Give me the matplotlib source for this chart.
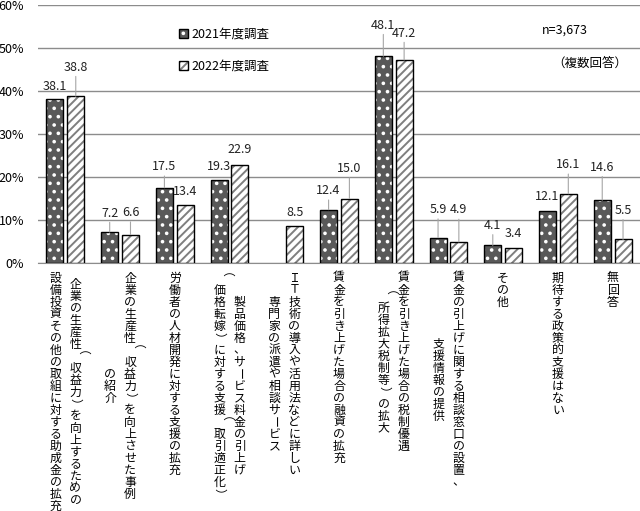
import matplotlib
matplotlib.use("Agg")
from matplotlib import pyplot as plt
from matplotlib.patches import Rectangle
import numpy as np

plt.rcParams["font.family"] = "Noto Sans CJK JP"
plt.rcParams["hatch.linewidth"] = 1.4

# Data
categories = [
    ["企業の生産性（収益力）を向上するための", "設備投資その他の取組に対する助成金の拡充"],
    ["企業の生産性（収益力）を向上させた事例", "の紹介"],
    ["労働者の人材開発に対する支援の拡充"],
    ["製品価格、サービス料金の引上げ", "（価格転嫁）に対する支援（取引適正化）"],
    ["ＩＴ技術の導入や活用法などに詳しい", "専門家の派遣や相談サービス"],
    ["賃金を引き上げた場合の融資の拡充"],
    ["賃金を引き上げた場合の税制優遇", "（所得拡大税制等）の拡大"],
    ["賃金の引上げに関する相談窓口の設置、", "支援情報の提供"],
    ["その他"],
    ["期待する政策的支援はない"],
    ["無回答"],
]
survey_2021 = [38.1, 7.2, 17.5, 19.3, np.nan, 12.4, 48.1, 5.9, 4.1, 12.1, 14.6]
survey_2022 = [38.8, 6.6, 13.4, 22.9, 8.5, 15.0, 47.2, 4.9, 3.4, 16.1, 5.5]
series_names = ["2021年度調査", "2022年度調査"]

# label raise above bar tops (pixels)
raise_2021 = [13, 19, 21, 14, 0, 19, 31, 28, 20, 14, 33]
raise_2022 = [29, 22, 14, 15, 14, 30, 27, 32, 15, 29, 29]

fig = plt.figure(figsize=(6.4, 5.11), dpi=100)
ax = fig.add_axes([38 / 640, (511 - 263) / 511, 1 - 38 / 640, 258 / 511])

x = np.arange(len(categories))
w = 0.31
off = 0.19

for i in range(len(x)):
    v1, v2 = survey_2021[i], survey_2022[i]
    if not np.isnan(v1):
        ax.bar(x[i] - off, v1, w, color="#595959", edgecolor="white", hatch="..", linewidth=0, zorder=3)
        ax.bar(x[i] - off, v1, w, fill=False, edgecolor="black", linewidth=1, zorder=4)
    ax.bar(x[i] + off, v2, w, color="white", edgecolor="#7f7f7f", hatch="////", linewidth=0, zorder=3)
    ax.bar(x[i] + off, v2, w, fill=False, edgecolor="black", linewidth=1, zorder=4)

    for xc, v, r in [(x[i] - off, v1, raise_2021[i]), (x[i] + off, v2, raise_2022[i])]:
        if np.isnan(v):
            continue
        lead = dict(arrowstyle="-", color="#a6a6a6", lw=0.8, shrinkA=0, shrinkB=0) if r > 18 else None
        ax.annotate(f"{v:.1f}", xy=(xc, v), xytext=(0, r), textcoords="offset pixels",
                    ha="center", va="center", fontsize=9, color="#222222", arrowprops=lead, zorder=5)
        if lead:
            # redraw leader only up to text bottom
            pass

ax.set_ylim(0, 60)
ax.set_xlim(-0.5, len(x) - 0.5)
ax.set_yticks(range(0, 61, 10))
ax.set_yticklabels([f"{t}%" for t in range(0, 61, 10)], fontsize=9)
ax.tick_params(axis="y", length=0, pad=10)
ax.tick_params(axis="x", length=0, labelbottom=False)
ax.grid(axis="y", color="#8c8c8c", linewidth=1, zorder=0)
for s in ["top", "right", "left"]:
    ax.spines[s].set_visible(False)
ax.spines["bottom"].set_color("#8c8c8c")

# vertical Japanese labels
pitch = 12
colgap = 20
rot_chars = {"（": -90, "）": -90, "ー": -90}
for i, lines in enumerate(categories):
    n = len(lines)
    longest = max(len(l) for l in lines)
    for j, line in enumerate(lines):
        dx = ((n - 1) / 2 - j) * colgap
        start = (longest - len(line)) / 2 * pitch
        for k, ch in enumerate(line):
            dy = -(9 + 6 + start + k * pitch)
            ax.annotate(ch, xy=(x[i], 0), xytext=(dx, dy), textcoords="offset pixels",
                        ha="center", va="center", fontsize=8.6, rotation=rot_chars.get(ch, 0),
                        annotation_clip=False)

# legend
def fig_rect(px, py, size, **kw):
    fig.patches.append(Rectangle((px / 640, (511 - py - size) / 511), size / 640, size / 511,
                                 transform=fig.transFigure, figure=fig, **kw))

fig_rect(179, 29, 9, facecolor="#595959", edgecolor="white", hatch="..", linewidth=0)
fig_rect(179, 29, 9, fill=False, edgecolor="black", linewidth=1)
fig_rect(179, 61, 9, facecolor="white", edgecolor="#7f7f7f", hatch="////", linewidth=0)
fig_rect(179, 61, 9, fill=False, edgecolor="black", linewidth=1)
fig.text(191 / 640, 1 - 34 / 511, series_names[0], fontsize=9, va="center")
fig.text(191 / 640, 1 - 66 / 511, series_names[1], fontsize=9, va="center")
fig.text(565 / 640, 1 - 30 / 511, "n=3,673", fontsize=9, va="center", ha="center")
fig.text(590 / 640, 1 - 63 / 511, "（複数回答）", fontsize=9, va="center", ha="center")

plt.savefig("out.png", dpi=100)
